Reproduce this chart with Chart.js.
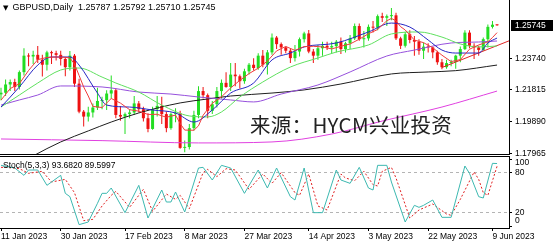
<!DOCTYPE html>
<html>
<head>
<meta charset="utf-8">
<title>GBPUSD Daily</title>
<script src="https://cdn.jsdelivr.net/npm/chart.js@4.4.1/dist/chart.umd.min.js"></script>
<style>
  html, body { margin: 0; padding: 0; background: #fff; }
  #wrap { position: relative; width: 554px; height: 248px; overflow: hidden; font-family: "Liberation Sans", Arial, sans-serif; color: #000; }
  #wrap canvas { position: absolute; left: 0; }
  #cMain { top: 0; }
  #cStoch { top: 155px; }
  .txt { position: absolute; white-space: nowrap; }
  #hdr { left: 3px; top: 2px; font-size: 9px; }
  #hdr .tri { font-size: 7px; margin-right: 4px; font-family: "DejaVu Sans", sans-serif; }
  #stochTitle { left: 3px; top: 160px; font-size: 8.5px; }
  #mark { left: 250px; top: 114px; font-family: "Noto Sans CJK SC", sans-serif; font-size: 20.5px; line-height: 21px; letter-spacing: 0.3px; color: #222; }
</style>
</head>
<body>
<div id="wrap">
  <canvas id="cMain" width="554" height="160"></canvas>
  <canvas id="cStoch" width="554" height="93"></canvas>
  <div class="txt" id="hdr"><span class="tri">▼</span>GBPUSD,Daily&nbsp; 1.25787 1.25792 1.25710 1.25745</div>
  <div class="txt" id="mark">来源：HYCM兴业投资</div>
  <div class="txt" id="stochTitle">Stoch(5,3,3) 93.6820 89.5997</div>
</div>
<script>
// ---- daily bars, 11 Jan 2023 .. 12 Jun 2023 (bar index = position) ----
const openP = [
  1.2155,1.2165,1.2215,1.2230,1.2200,1.2290,1.2390,1.2385,1.2395,1.2365,
  1.2335,1.2410,1.2405,1.2395,1.2370,1.2320,1.2390,1.2220,1.2050,1.2020,
  1.2045,1.2075,1.2115,1.2120,1.2160,1.2180,1.2030,1.2020,1.2035,1.2045,
  1.2100,1.2065,1.2010,1.1945,1.2065,1.2085,1.2035,1.1950,1.2035,1.2040,
  1.1830,1.1835,1.1950,1.2030,1.2175,1.2150,1.2055,1.2095,1.2175,1.2225,
  1.2200,1.2275,1.2265,1.2235,1.2295,1.2335,1.2315,1.2390,1.2335,1.2410,
  1.2500,1.2460,1.2440,1.2420,1.2375,1.2415,1.2490,1.2525,1.2415,1.2390,
  1.2435,1.2450,1.2440,1.2448,1.2475,1.2430,1.2465,1.2495,1.2570,1.2490,
  1.2495,1.2565,1.2560,1.2630,1.2620,1.2630,1.2635,1.2495,1.2450,1.2520,
  1.2485,1.2475,1.2420,1.2445,1.2440,1.2410,1.2350,1.2320,1.2345,1.2352,
  1.2390,1.2430,1.2530,1.2450,1.2440,1.2425,1.2490,1.2565,1.25787
];
const highP = [
  1.2195,1.2245,1.2245,1.2250,1.2300,1.2435,1.2405,1.2420,1.2448,1.2395,
  1.2420,1.2420,1.2420,1.2420,1.2380,1.2418,1.2400,1.2250,1.2060,1.2080,
  1.2100,1.2195,1.2140,1.2180,1.2270,1.2190,1.2085,1.2045,1.2065,1.2145,
  1.2115,1.2080,1.2040,1.2080,1.2145,1.2140,1.2050,1.2045,1.2070,1.2055,
  1.1875,1.1975,1.2055,1.2205,1.2200,1.2160,1.2115,1.2200,1.2245,1.2290,
  1.2345,1.2345,1.2275,1.2310,1.2345,1.2375,1.2405,1.2425,1.2425,1.2525,
  1.2510,1.2470,1.2445,1.2430,1.2455,1.2500,1.2535,1.2546,1.2430,1.2455,
  1.2475,1.2475,1.2475,1.2485,1.2500,1.2475,1.2515,1.2585,1.2585,1.2540,
  1.2580,1.2600,1.2640,1.2650,1.2640,1.2680,1.2650,1.2505,1.2535,1.2545,
  1.2510,1.2490,1.2470,1.2465,1.2445,1.2420,1.2370,1.2365,1.2365,1.2395,
  1.2445,1.2545,1.2545,1.2465,1.2450,1.2500,1.2580,1.2600,1.25792
];
const lowP = [
  1.2120,1.2145,1.2175,1.2175,1.2185,1.2270,1.2325,1.2340,1.2345,1.2263,
  1.2300,1.2340,1.2360,1.2330,1.2265,1.2300,1.2200,1.2040,1.1960,1.1990,
  1.2015,1.2060,1.2065,1.2060,1.2130,1.2010,1.1995,1.1915,1.2010,1.2030,
  1.2045,1.1990,1.1925,1.1940,1.2020,1.1975,1.1925,1.1940,1.1985,1.1825,
  1.1803,1.1820,1.1935,1.2010,1.2130,1.2010,1.2035,1.2075,1.2130,1.2195,
  1.2175,1.2205,1.2190,1.2220,1.2275,1.2300,1.2305,1.2320,1.2275,1.2395,
  1.2430,1.2395,1.2405,1.2345,1.2355,1.2385,1.2470,1.2405,1.2345,1.2365,
  1.2390,1.2425,1.2405,1.2410,1.2400,1.2410,1.2430,1.2485,1.2480,1.2440,
  1.2480,1.2530,1.2545,1.2595,1.2570,1.2605,1.2485,1.2430,1.2440,1.2465,
  1.2390,1.2395,1.2370,1.2410,1.2375,1.2335,1.2308,1.2310,1.2325,1.2310,
  1.2350,1.2425,1.2435,1.2370,1.2390,1.2420,1.2440,1.2555,1.25710
];
const closeP = [
  1.2165,1.2215,1.2230,1.2200,1.2290,1.2390,1.2385,1.2395,1.2365,1.2335,
  1.2410,1.2405,1.2395,1.2370,1.2320,1.2390,1.2220,1.2050,1.2020,1.2045,
  1.2075,1.2115,1.2120,1.2160,1.2180,1.2030,1.2020,1.2035,1.2045,1.2100,
  1.2065,1.2010,1.1945,1.2065,1.2085,1.2035,1.1950,1.2035,1.2040,1.1830,
  1.1835,1.1950,1.2030,1.2175,1.2150,1.2055,1.2095,1.2175,1.2225,1.2200,
  1.2275,1.2265,1.2235,1.2295,1.2335,1.2315,1.2390,1.2335,1.2410,1.2500,
  1.2460,1.2440,1.2420,1.2375,1.2415,1.2490,1.2525,1.2415,1.2390,1.2435,
  1.2450,1.2440,1.2448,1.2475,1.2430,1.2465,1.2495,1.2570,1.2490,1.2495,
  1.2565,1.2560,1.2630,1.2620,1.2630,1.2635,1.2495,1.2450,1.2520,1.2485,
  1.2475,1.2420,1.2445,1.2440,1.2410,1.2350,1.2320,1.2345,1.2352,1.2390,
  1.2430,1.2530,1.2450,1.2440,1.2425,1.2490,1.2565,1.2578,1.25745
];

// ---- moving averages: [bar index, price] ----
const maRed = [[0,1.2120],[2,1.2190],[4,1.2220],[6,1.2300],[8,1.2366],[10,1.2379],[12,1.2382],[14,1.2380],[15,1.2376],
  [16,1.2339],[17,1.2270],[18,1.2200],[19,1.2145],[20,1.2082],[22,1.2075],[24,1.2130],[26,1.2102],[28,1.2062],[30,1.2053],
  [32,1.2033],[34,1.2034],[36,1.2016],[38,1.2029],[39,1.1978],[40,1.1938],[42,1.1937],[43,1.1964],[44,1.2028],[46,1.2101],
  [48,1.2140],[50,1.2194],[52,1.2240],[54,1.2281],[56,1.2314],[58,1.2357],[60,1.2419],[62,1.2446],[64,1.2422],[66,1.2445],
  [68,1.2447],[70,1.2443],[72,1.2431],[74,1.2447],[76,1.2461],[78,1.2490],[80,1.2523],[82,1.2549],[84,1.2602],[85,1.2616],
  [86,1.2602],[87,1.2566],[88,1.2546],[90,1.2485],[92,1.2469],[94,1.2438],[96,1.2393],[98,1.2354],[100,1.2366],[102,1.2429],
  [104,1.2455],[106,1.2474],[107,1.2500],[108,1.2530]];
const maBlue = [[0,1.2078],[4,1.2200],[8,1.2333],[11,1.2382],[15,1.2382],[17,1.2333],[21,1.2163],[23,1.2090],[28,1.2078],
  [33,1.2060],[38,1.2042],[42,1.1987],[46,1.2060],[50,1.2163],[55,1.2224],[59,1.2364],[63,1.2406],[66,1.2443],[73,1.2467],
  [80,1.2534],[85,1.2588],[89,1.2564],[93,1.2485],[96,1.2424],[99,1.2406],[104,1.2406],[106,1.2467],[108,1.2497]];
const maGreen = [[0,1.2078],[4,1.2151],[8,1.2224],[13,1.2303],[17,1.2315],[22,1.2260],[25,1.2224],[30,1.2169],[35,1.2090],
  [41,1.2024],[45,1.2018],[48,1.2048],[52,1.2139],[57,1.2230],[63,1.2321],[69,1.2376],[73,1.2412],[80,1.2455],[85,1.2522],
  [91,1.2534],[96,1.2503],[100,1.2461],[104,1.2443],[108,1.2449]];
const maPurple = [[0,1.2090],[4,1.2121],[8,1.2151],[13,1.2206],[22,1.2200],[30,1.2169],[37,1.2157],[43,1.2139],[50,1.2121],
  [55,1.2109],[61,1.2157],[69,1.2212],[76,1.2291],[84,1.2388],[90,1.2424],[98,1.2467],[104,1.2473],[108,1.2479]];
const maBlack = [[0,1.1665],[7,1.1781],[13,1.1866],[19,1.1933],[24,1.1987],[30,1.2042],[39,1.2103],[45,1.2127],[50,1.2145],
  [59,1.2163],[66,1.2182],[74,1.2218],[85,1.2279],[93,1.2291],[99,1.2299],[108,1.2333]];
const maMagenta = [[0,1.1884],[22,1.1874],[43,1.1860],[59,1.1866],[72,1.1914],[83,1.1993],[96,1.2078],[108,1.2175]];
const trendLine = [[96,1.2318],[110.6,1.2480]];

// ---- stochastic (5,3,3): [bar index, value] ----
const stochK = [[0,91],[3,87],[5,76],[6,84],[8,84],[10,61],[13,76],[14,49],[15,44],[17,2],[19,6],[21,34],[22,49],[23,49],
  [24,57],[27,20],[30,61],[32,12],[35,54],[36,36],[37,36],[38,51],[40,21],[43,87],[44,88],[46,69],[48,91],[50,87],[53,49],
  [56,84],[58,57],[60,87],[63,44],[64,39],[66,87],[68,20],[70,20],[73,84],[74,69],[76,64],[78,88],[80,57],[81,54],[82,91],
  [84,91],[85,66],[88,6],[90,31],[91,28],[92,31],[94,39],[96,13],[98,13],[101,90],[102,79],[104,44],[105,42],[107,94],[108,93.68]];
const stochD = [[0,88],[1,88],[4,86],[6,79],[7,80],[9,82],[11,66],[14,70],[16,50],[18,8],[20,10],[22,30],[24,46],[25,52],
  [28,28],[31,55],[33,22],[36,48],[38,40],[39,46],[41,26],[44,80],[45,85],[47,74],[49,86],[51,84],[54,55],[57,78],[59,64],
  [61,80],[64,50],[65,46],[67,78],[69,30],[71,24],[74,78],[75,72],[77,68],[79,82],[81,62],[82,60],[83,82],[85,88],[86,72],
  [89,12],[91,24],[93,30],[94,33],[97,18],[98,16],[100,40],[103,81],[104,70],[105,50],[106,46],[108,89.60]];

// ---- axes ----
const priceTicks = [1.17965, 1.19890, 1.21815, 1.23740];
const stochLevels = [0, 20, 80, 100];
const dateTickIdx = [0, 13, 27, 40, 53, 67, 80, 93, 107];
const dateTickText = ['11 Jan 2023', '30 Jan 2023', '17 Feb 2023', '8 Mar 2023', '27 Mar 2023',
                      '14 Apr 2023', '3 May 2023', '22 May 2023', '9 Jun 2023'];

const X_MIN = -0.218, X_MAX = 110.6;
const P_MIN = 1.17928, P_MAX = 1.27281;
const UP = '#22dd22', DOWN = '#ee1111';
const FONT = { family: '"Liberation Sans", Arial, sans-serif', size: 8.5 };

Chart.defaults.animation = false;
Chart.defaults.color = '#000';
Chart.defaults.font.family = FONT.family;
Chart.defaults.font.size = FONT.size;

const pts = arr => arr.map(([x, y]) => ({ x, y }));

function maLine(points, color, smooth) {
    return {
        type: 'line', data: pts(points), borderColor: color, borderWidth: 1,
        pointRadius: 0, fill: false, tension: 0,
        cubicInterpolationMode: smooth ? 'monotone' : 'default', order: 0,
    };
}

// ── Main price panel ─────────────────────────────────────────
const barColors = closeP.map((c, i) => c >= openP[i] ? UP : DOWN);
const wickData = closeP.map((c, i) => ({ x: i, y: [lowP[i], highP[i]] }));
const bodyData = closeP.map((c, i) => ({ x: i, y: [Math.min(openP[i], c), Math.max(openP[i], c)] }));

const priceBox = {
    id: 'priceBox',
    afterDraw(chart) {
        const last = closeP[closeP.length - 1];
        const y = chart.scales.y.getPixelForValue(last);
        const ctx = chart.ctx;
        ctx.save();
        ctx.fillStyle = '#000';
        ctx.fillRect(511, Math.round(y) - 5, 42, 11);
        ctx.fillStyle = '#fff';
        ctx.font = '8.5px "Liberation Sans"';
        ctx.textBaseline = 'middle';
        ctx.fillText(last.toFixed(5), 515, Math.round(y) + 0.5);
        ctx.restore();
    }
};

new Chart(document.getElementById('cMain'), {
    type: 'bar',
    data: {
        datasets: [
            maLine(maRed, '#f03c3c', false),
            maLine(maBlue, '#2626c4', true),
            maLine(maGreen, '#5fe05f', true),
            maLine(maPurple, '#9650dc', true),
            maLine(maBlack, '#1e1e1e', true),
            maLine(maMagenta, '#e040e0', true),
            maLine(trendLine, '#e02424', false),
            { data: bodyData, backgroundColor: barColors, borderWidth: 0, grouped: false,
              barThickness: 3, maxBarThickness: 3, minBarLength: 1, inflateAmount: 0, order: 1 },
            { data: wickData, backgroundColor: barColors, borderWidth: 0, grouped: false,
              barThickness: 1, maxBarThickness: 1, inflateAmount: 0, order: 2 },
        ],
    },
    options: {
        responsive: false,
        devicePixelRatio: 1,
        layout: { padding: 0 },
        plugins: { legend: { display: false }, tooltip: { enabled: false } },
        scales: {
            x: {
                type: 'linear', min: X_MIN, max: X_MAX, offset: false,
                ticks: { display: false },
                grid: { display: false, drawTicks: false, offset: false },
                border: { display: true, color: '#000' },
                afterFit: s => { s.height = 6; s.paddingLeft = 0; s.paddingRight = 0; },
            },
            y: {
                position: 'right', min: P_MIN, max: P_MAX, beginAtZero: false,
                afterBuildTicks: s => { s.ticks = priceTicks.map(v => ({ value: v })); },
                ticks: { callback: v => v.toFixed(5), padding: 3, autoSkip: false },
                grid: { drawOnChartArea: false, drawTicks: true, tickLength: 3, tickColor: '#000' },
                border: { display: true, color: '#000' },
                afterFit: s => { s.width = 45; s.paddingTop = 0; s.paddingBottom = 0; },
            },
        },
    },
    plugins: [priceBox],
});

// ── Stochastic panel ─────────────────────────────────────────
const stochAxisText = {
    id: 'stochAxisText',
    afterDraw(chart) {
        const s = chart.scales.y, ctx = chart.ctx, a = chart.chartArea;
        ctx.save();
        ctx.strokeStyle = '#000';
        ctx.lineWidth = 1;
        ctx.beginPath();
        ctx.moveTo(a.left, a.top + 0.5);
        ctx.lineTo(a.right, a.top + 0.5);
        ctx.stroke();
        ctx.font = '8.5px "Liberation Sans"';
        ctx.fillStyle = '#000';
        ctx.textBaseline = 'middle';
        stochLevels.forEach(v => {
            const y = Math.min(Math.max(s.getPixelForValue(v), s.top + 7), s.bottom - 7);
            ctx.fillText(String(v), s.left + 6, y);
        });
        ctx.restore();
    }
};

new Chart(document.getElementById('cStoch'), {
    type: 'line',
    data: {
        datasets: [
            { data: pts(stochK), borderColor: '#3cb8b0', borderWidth: 1, pointRadius: 0, tension: 0 },
            { data: pts(stochD), borderColor: '#e02020', borderWidth: 1, pointRadius: 0, tension: 0, borderDash: [2, 2] },
        ],
    },
    options: {
        responsive: false,
        devicePixelRatio: 1,
        layout: { padding: { top: 1, left: 0, right: 0, bottom: 0 } },
        plugins: { legend: { display: false }, tooltip: { enabled: false } },
        scales: {
            x: {
                type: 'linear', min: X_MIN, max: X_MAX, offset: false,
                afterBuildTicks: s => { s.ticks = dateTickIdx.map(v => ({ value: v })); },
                ticks: { autoSkip: false, maxRotation: 0, align: 'start', padding: 1,
                         callback: (v, i) => dateTickText[i] },
                grid: { drawOnChartArea: false, drawTicks: true, tickLength: 3, tickColor: '#000' },
                border: { display: true, color: '#000' },
                afterFit: s => { s.height = 20; s.paddingLeft = 0; s.paddingRight = 0; },
            },
            y: {
                position: 'right', min: -3, max: 105,
                afterBuildTicks: s => { s.ticks = stochLevels.map(v => ({ value: v })); },
                ticks: { display: false },
                grid: {
                    color: c => (c.tick && (c.tick.value === 20 || c.tick.value === 80)) ? '#b4b4b4' : 'rgba(0,0,0,0)',
                    drawTicks: true, tickLength: 3, tickColor: '#000',
                },
                border: { display: true, color: '#000', dash: [3, 3] },
                afterFit: s => { s.width = 45; s.paddingTop = 0; s.paddingBottom = 0; },
            },
        },
    },
    plugins: [stochAxisText],
});
</script>
</body>
</html>
